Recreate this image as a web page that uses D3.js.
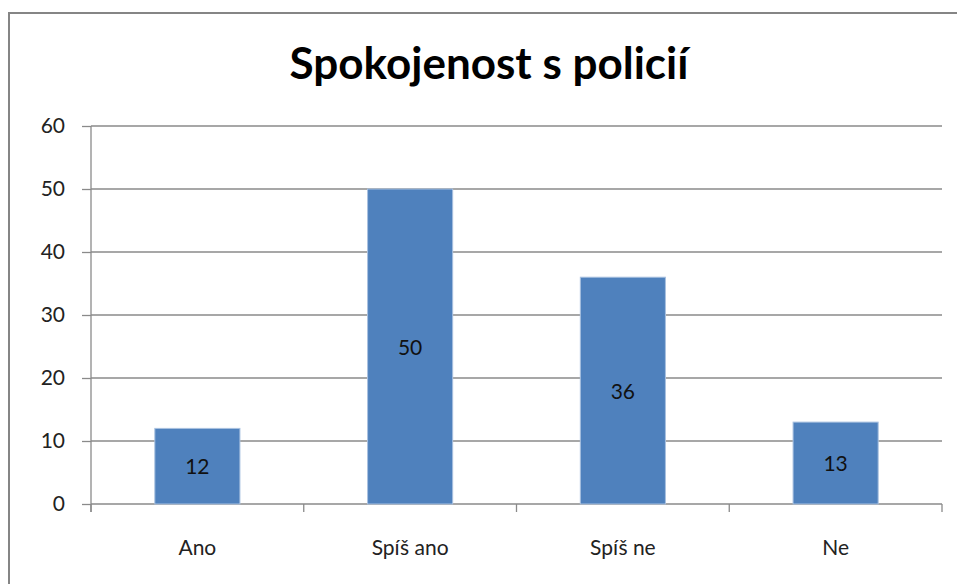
<!DOCTYPE html>
<html>
<head>
<meta charset="utf-8">
<script src="https://cdn.jsdelivr.net/npm/d3@7"></script>
<style>
  body { margin: 0; background: #fff; }
  text { font-family: Lato, "Open Sans", sans-serif; }
</style>
</head>
<body>
<div id="chart"></div>
<script>
// data
const categories = ["Ano", "Spíš ano", "Spíš ne", "Ne"];
const values = [12, 50, 36, 13];
const yTicks = [0, 10, 20, 30, 40, 50, 60];
const title = "Spokojenost s policií";

const W = 957, H = 584;
const plot = { left: 91, right: 942, top: 126, bottom: 504 };

const svg = d3.select("#chart").append("svg")
  .attr("width", W).attr("height", H);

// outer chart frame (runs off the bottom/right like the screenshot)
svg.append("rect")
  .attr("x", 9).attr("y", 13)
  .attr("width", 980).attr("height", 620)
  .attr("fill", "#fff")
  .attr("stroke", "#858585")
  .attr("stroke-width", 2);

svg.append("text")
  .attr("x", 489).attr("y", 79)
  .attr("text-anchor", "middle")
  .attr("font-size", 44)
  .attr("font-weight", "bold")
  .text(title);

const x = d3.scaleBand()
  .domain(categories)
  .range([plot.left, plot.right])
  .paddingInner(0.6)
  .paddingOuter(0.3);

const y = d3.scaleLinear()
  .domain([0, 60])
  .range([plot.bottom, plot.top]);

// gridlines
svg.append("g")
  .selectAll("line")
  .data(yTicks)
  .join("line")
  .attr("x1", plot.left).attr("x2", plot.right)
  .attr("y1", d => y(d)).attr("y2", d => y(d))
  .attr("stroke", "#8a8a8a")
  .attr("stroke-width", 1.3);

// y axis
const yAxis = svg.append("g")
  .attr("transform", `translate(${plot.left},0)`)
  .call(d3.axisLeft(y).tickValues(yTicks).tickSize(9).tickPadding(17));
yAxis.select(".domain").remove();
yAxis.selectAll(".tick line").attr("stroke", "#8a8a8a").attr("stroke-width", 1.3);
yAxis.selectAll(".tick text")
  .attr("font-size", 21).attr("fill", "#222")
  .style("font-family", "Lato, sans-serif");
svg.append("line")
  .attr("x1", plot.left).attr("x2", plot.left)
  .attr("y1", plot.top).attr("y2", plot.bottom + 8)
  .attr("stroke", "#8a8a8a").attr("stroke-width", 1.3);

// x axis tick marks at category boundaries
const step = x.step();
const bounds = d3.range(categories.length + 1).map(i => plot.left + i * step);
svg.append("g")
  .selectAll("line")
  .data(bounds)
  .join("line")
  .attr("x1", d => d).attr("x2", d => d)
  .attr("y1", plot.bottom).attr("y2", plot.bottom + 8)
  .attr("stroke", "#8a8a8a").attr("stroke-width", 1.3);

svg.append("g")
  .selectAll("text")
  .data(categories)
  .join("text")
  .attr("x", d => x(d) + x.bandwidth() / 2)
  .attr("y", 555)
  .attr("text-anchor", "middle")
  .attr("font-size", 21)
  .attr("fill", "#222")
  .text(d => d);

// bars
const rows = categories.map((c, i) => ({ cat: c, val: values[i] }));
svg.append("g")
  .selectAll("rect")
  .data(rows)
  .join("rect")
  .attr("x", d => x(d.cat))
  .attr("y", d => y(d.val))
  .attr("width", x.bandwidth())
  .attr("height", d => y(0) - y(d.val))
  .attr("fill", "#4f81bd")
  .attr("stroke", "#a9c1e0")
  .attr("stroke-width", 1);

// value labels, centred in each bar
svg.append("g")
  .selectAll("text")
  .data(rows)
  .join("text")
  .attr("x", d => x(d.cat) + x.bandwidth() / 2)
  .attr("y", d => (y(d.val) + y(0)) / 2 + 8)
  .attr("text-anchor", "middle")
  .attr("font-size", 21)
  .attr("fill", "#111")
  .text(d => d.val);
</script>
</body>
</html>
